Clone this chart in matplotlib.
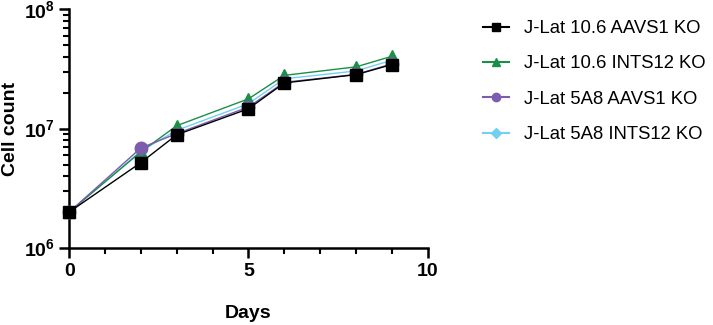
import matplotlib
matplotlib.use("Agg")
import matplotlib.pyplot as plt
from matplotlib.ticker import LogLocator, MultipleLocator, FixedLocator

plt.rcParams['font.family'] = ['Liberation Sans', 'DejaVu Sans']
plt.rcParams['mathtext.fontset'] = 'custom'
plt.rcParams['mathtext.rm'] = 'Liberation Sans:bold'
plt.rcParams['mathtext.bf'] = 'Liberation Sans:bold'

days = [0, 2, 3, 5, 6, 8, 9]
jlat106_aavs1 = [2.0e6, 5.2e6, 8.9e6, 1.47e7, 2.42e7, 2.84e7, 3.45e7]
jlat106_ints12 = [2.0e6, 6.4e6, 1.06e7, 1.78e7, 2.8e7, 3.3e7, 4.05e7]
jlat5a8_aavs1 = [2.0e6, 6.9e6, 9.1e6, 1.52e7, 2.45e7, 2.85e7, 3.5e7]
jlat5a8_ints12 = [2.0e6, 6.5e6, 9.7e6, 1.62e7, 2.62e7, 3.05e7, 3.75e7]

labels = ["J-Lat 10.6 AAVS1 KO", "J-Lat 10.6 INTS12 KO",
          "J-Lat 5A8 AAVS1 KO", "J-Lat 5A8 INTS12 KO"]
colors = ["#000000", "#1b8f48", "#7d5bad", "#72d0f2"]
markers = ["s", "^", "o", "D"]
series = [jlat106_aavs1, jlat106_ints12, jlat5a8_aavs1, jlat5a8_ints12]
zorders = [6, 4, 5, 3]
msizes = [9, 9, 9, 6]

fig = plt.figure(figsize=(7.13, 3.25), dpi=100)
ax = fig.add_axes([0.097, 0.237, 0.503, 0.734])

for ys, lab, c, m, z, ms in zip(series, labels, colors, markers, zorders, msizes):
    ax.plot(days, ys, color=c, marker=m, markersize=ms, linewidth=1.0,
            label=lab, zorder=z, clip_on=False)

ax.set_yscale('log')
ax.set_xlim(0, 10)
ax.set_ylim(1e6, 1e8)
ax.xaxis.set_major_locator(FixedLocator([0, 5, 10]))
ax.xaxis.set_minor_locator(MultipleLocator(1))
ax.yaxis.set_major_locator(FixedLocator([1e6, 1e7, 1e8]))
ax.yaxis.set_minor_locator(LogLocator(base=10, subs=range(2, 10)))
ax.set_yticklabels([r'$10^{6}$', r'$10^{7}$', r'$10^{8}$'])
ax.yaxis.set_minor_formatter(plt.NullFormatter())

for s in ['top', 'right']:
    ax.spines[s].set_visible(False)
for s in ['left', 'bottom']:
    ax.spines[s].set_linewidth(1.8)
ax.tick_params(which='major', length=7, width=1.8, labelsize=14)
ax.tick_params(which='minor', length=4, width=1.5)
for t in ax.get_xticklabels():
    t.set_fontweight('bold')

ax.set_xlabel("Days", fontsize=14, fontweight='bold', labelpad=18)
ax.set_ylabel("Cell count", fontsize=14, fontweight='bold', labelpad=3)

leg_handles = []
for lab, c, m in zip(labels, colors, markers):
    hh, = ax.plot([], [], color=c, marker=m, markersize=6 if m != 'D' else 5,
                  linewidth=1.5, label=lab)
    leg_handles.append(hh)
fig.legend(handles=leg_handles, loc='upper left', bbox_to_anchor=(483 / 713, 1 - 20 / 325),
           frameon=False, fontsize=13.3, handlelength=1.4, labelspacing=1.0,
           handletextpad=0.8, borderpad=0, borderaxespad=0)

fig.savefig("out.png", dpi=100)
